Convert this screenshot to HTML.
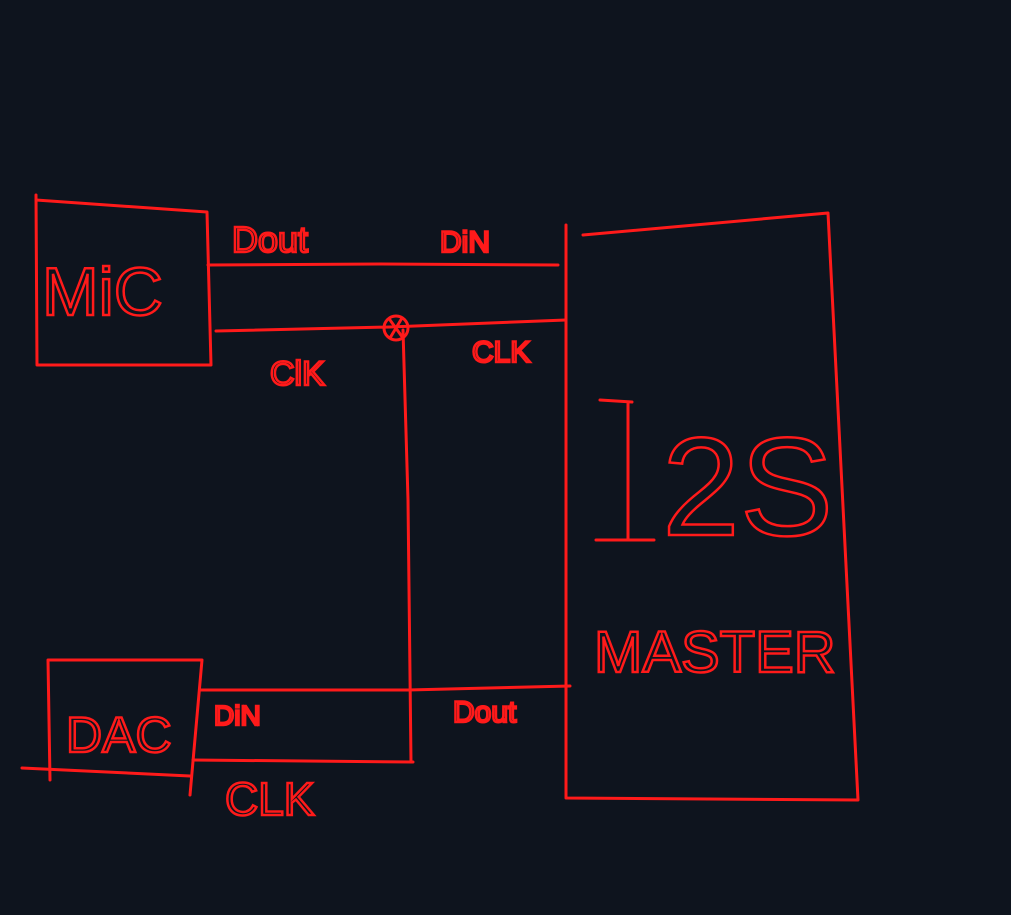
<!DOCTYPE html>
<html><head><meta charset="utf-8"><style>
html,body{margin:0;padding:0;background:#0e141e;width:1011px;height:915px;overflow:hidden}
svg{display:block}
text{font-family:"Liberation Sans",sans-serif;fill:none;stroke:#ff1a1a;stroke-width:2.5}
</style></head><body>
<svg width="1011" height="915" viewBox="0 0 1011 915">
<g fill="none" stroke="#ff1a1a" stroke-width="3" stroke-linecap="round" stroke-linejoin="round">
<path d="M36 195 L37 365 L211 365 L207 212 L36 200"/>
<path d="M208 265 L380 264 L558 265"/>
<path d="M216 331 L390 327 L566 320"/>
<circle cx="396" cy="328" r="12"/>
<path d="M390 320 L403 338 M402 318 L390 338"/>
<path d="M403 330 L408 500 L411 762"/>
<path d="M193 760 L413 762"/>
<path d="M566 225 L566 798 L858 800 L828 213 L583 235"/>
<path d="M200 690 L408 690 L570 686"/>
<path d="M48 660 L202 660 L190 795 M48 660 L50 780"/>
<path d="M22 768 L190 776"/>
<path d="M600 400 L632 402 M596 540 L654 540 M628 402 L628 540"/>
</g>
<text x="42" y="315" font-size="68" stroke-width="3">MiC</text>
<text x="232" y="252" font-size="36">Dout</text>
<text x="440" y="252" font-size="30">DiN</text>
<text x="270" y="385" font-size="34">ClK</text>
<text x="472" y="362" font-size="30">CLK</text>
<text x="662" y="535" font-size="140" stroke-width="3">2S</text>
<text x="594" y="672" font-size="58" stroke-width="3">MASTER</text>
<text x="66" y="752" font-size="50" stroke-width="3">DAC</text>
<text x="214" y="725" font-size="28">DiN</text>
<text x="453" y="722" font-size="30">Dout</text>
<text x="225" y="815" font-size="46" stroke-width="3">CLK</text>
</svg>
</body></html>
